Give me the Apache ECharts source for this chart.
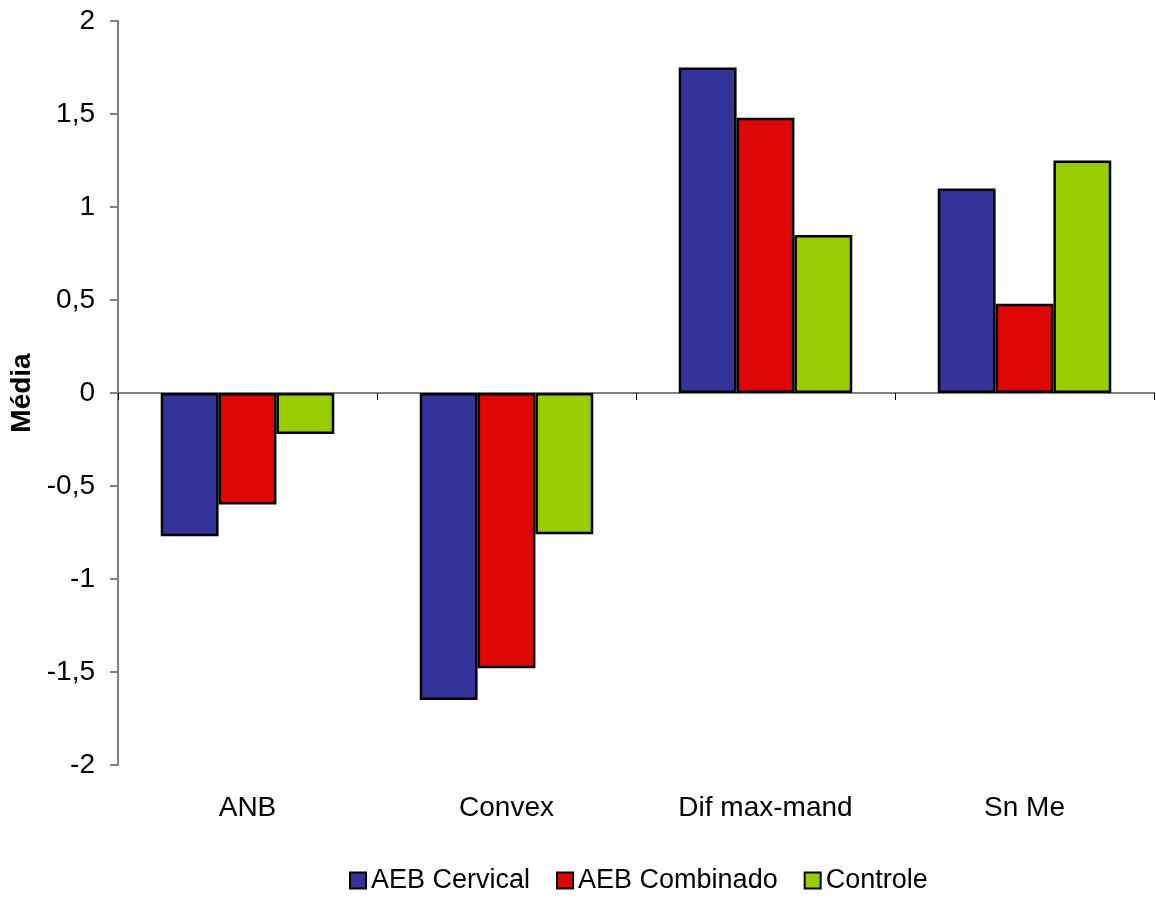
<!DOCTYPE html>
<html>
<head>
<meta charset="utf-8">
<title>Média</title>
<script src="https://cdn.jsdelivr.net/npm/echarts@6/dist/echarts.min.js"></script>
<style>
  html, body { margin: 0; padding: 0; background: #ffffff; }
  #chart { width: 1156px; height: 899px; }
</style>
</head>
<body>
<div id="chart"></div>
<script>
// Categories and mean values per group
const categories = ['ANB', 'Convex', 'Dif max-mand', 'Sn Me'];
const seriesNames = ['AEB Cervical', 'AEB Combinado', 'Controle'];
const aebCervical = [-0.77, -1.65, 1.75, 1.10];
const aebCombinado = [-0.60, -1.48, 1.48, 0.48];
const controle = [-0.22, -0.76, 0.85, 1.25];
const yMin = -2, yMax = 2, yStep = 0.5;

const colors = ['#333399', '#DD0806', '#99CC00'];
const values = [aebCervical, aebCombinado, controle];
const FONT = '"Liberation Sans", Arial, sans-serif';

const chart = echarts.init(document.getElementById('chart'), null, { renderer: 'canvas' });

chart.setOption({
  animation: false,
  backgroundColor: '#ffffff',
  textStyle: { fontFamily: FONT },
  grid: { left: 118, right: 2, top: 21, bottom: 134, containLabel: false, outerBoundsMode: 'none' },
  legend: {
    left: 344,
    top: 862,
    itemWidth: 16,
    itemHeight: 16,
    itemGap: 26,
    icon: 'rect',
    data: seriesNames,
    textStyle: { fontFamily: FONT, fontSize: 27, color: '#000000' },
    itemStyle: { borderColor: '#000000', borderWidth: 2 }
  },
  xAxis: [
    {
      // axis line across zero with category separators
      type: 'category',
      data: categories,
      position: 'bottom',
      axisLine: { onZero: true, lineStyle: { color: '#808080', width: 2 } },
      axisTick: { show: true, length: 7, lineStyle: { color: '#000000', width: 1 } },
      axisLabel: { show: false },
      splitLine: { show: false }
    },
    {
      // category names along the bottom of the plot
      type: 'category',
      data: categories,
      position: 'bottom',
      axisLine: { show: false, onZero: false },
      axisTick: { show: false },
      axisLabel: { show: true, margin: 29, fontSize: 28, color: '#000000', fontFamily: FONT },
      splitLine: { show: false }
    }
  ],
  yAxis: {
    type: 'value',
    min: yMin,
    max: yMax,
    interval: yStep,
    name: 'Média',
    nameLocation: 'middle',
    nameGap: 80,
    nameRotate: 90,
    nameTextStyle: { fontFamily: FONT, fontSize: 28, fontWeight: 'bold', color: '#000000' },
    axisLine: { show: true, lineStyle: { color: '#808080', width: 2 } },
    axisTick: { show: true, length: 8, lineStyle: { color: '#808080', width: 2 } },
    axisLabel: {
      margin: 23,
      fontSize: 28,
      color: '#000000',
      fontFamily: FONT,
      formatter: v => String(v).replace('.', ',')
    },
    splitLine: { show: false }
  },
  series: seriesNames.map((name, i) => ({
    name: name,
    type: 'bar',
    xAxisIndex: 0,
    data: values[i],
    barGap: '0%',
    barCategoryGap: '33%',
    itemStyle: { color: colors[i], borderColor: '#000000', borderWidth: 2.5 }
  }))
});
</script>
</body>
</html>
